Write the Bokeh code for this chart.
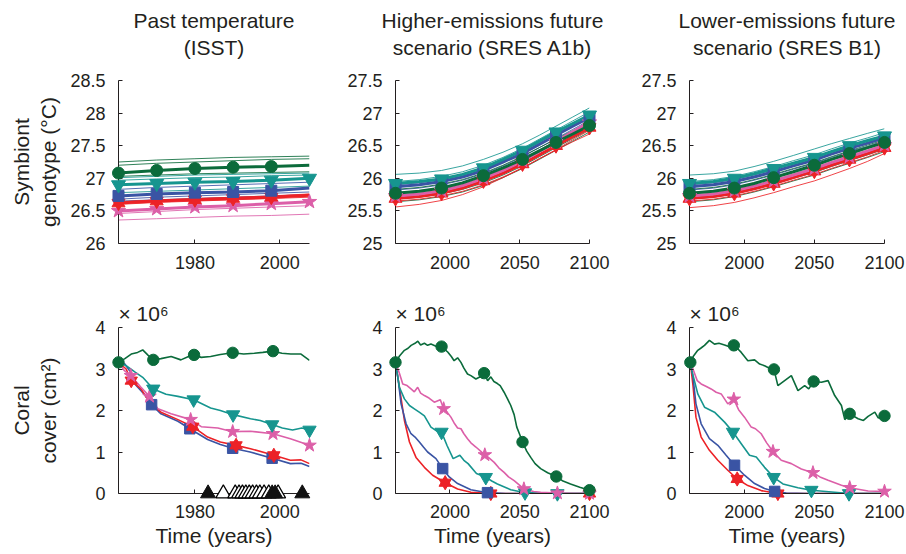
from bokeh.plotting import figure
from bokeh.layouts import column, row
from bokeh.models import Range1d, FixedTicker, NumeralTickFormatter, Title
from bokeh.core.properties import value
from bokeh.embed import file_html
from bokeh.resources import INLINE

# ---------------- data ----------------
# Top row: symbiont genotype (deg C)
isst_years = [1962, 1971, 1980, 1989, 1998, 2007]
isst_green = [27.08, 27.12, 27.15, 27.17, 27.18, 27.20]
isst_teal = [26.90, 26.92, 26.94, 26.95, 26.97, 27.00]
isst_blue = [26.73, 26.76, 26.78, 26.79, 26.81, 26.85]
isst_red = [26.62, 26.65, 26.67, 26.69, 26.71, 26.74]
isst_pink = [26.50, 26.53, 26.56, 26.58, 26.61, 26.64]
isst_thin = [
    ("green", [27.25, 27.28, 27.30, 27.32, 27.33, 27.34]),
    ("green", [27.20, 27.23, 27.25, 27.27, 27.29, 27.30]),
    ("green", [27.03, 27.05, 27.07, 27.08, 27.09, 27.10]),
    ("teal", [27.01, 27.03, 27.05, 27.06, 27.07, 27.08]),
    ("teal", [26.97, 26.99, 27.01, 27.02, 27.04, 27.05]),
    ("blue", [26.83, 26.86, 26.88, 26.90, 26.92, 26.94]),
    ("teal", [26.78, 26.80, 26.82, 26.84, 26.86, 26.88]),
    ("blue", [26.68, 26.71, 26.73, 26.75, 26.77, 26.79]),
    ("blue", [26.65, 26.67, 26.69, 26.71, 26.73, 26.75]),
    ("red", [26.60, 26.63, 26.65, 26.67, 26.69, 26.71]),
    ("red", [26.64, 26.67, 26.69, 26.71, 26.73, 26.76]),
    ("pink", [26.46, 26.49, 26.52, 26.54, 26.56, 26.58]),
    ("pink", [26.36, 26.38, 26.40, 26.42, 26.43, 26.45]),
]
isst_marks = {"green": [0, 1, 2, 3, 4], "teal": [0, 1, 2, 3, 4, 5], "blue": [0, 1, 2, 3, 4],
              "red": [0, 1, 2, 3, 4], "pink": [0, 1, 2, 3, 4, 5]}

a1b_years = [1961, 1978, 1994, 2009, 2024, 2038, 2052, 2064, 2076, 2088, 2100]
a1b_green = [25.77, 25.80, 25.85, 25.93, 26.04, 26.16, 26.29, 26.42, 26.55, 26.68, 26.81]
a1b_teal = [25.92, 25.95, 25.99, 26.06, 26.16, 26.29, 26.43, 26.57, 26.71, 26.84, 26.97]
a1b_blue = [25.87, 25.90, 25.95, 26.02, 26.12, 26.25, 26.38, 26.52, 26.66, 26.80, 26.93]
a1b_pink = [25.73, 25.76, 25.81, 25.89, 26.00, 26.12, 26.27, 26.41, 26.56, 26.71, 26.86]
a1b_red = [25.69, 25.72, 25.77, 25.85, 25.96, 26.08, 26.22, 26.36, 26.50, 26.64, 26.78]
a1b_thin = [
    ("teal", [26.06, 26.08, 26.12, 26.19, 26.29, 26.40, 26.53, 26.66, 26.80, 26.94, 27.08]),
    ("teal", [25.95, 25.98, 26.03, 26.10, 26.20, 26.32, 26.46, 26.60, 26.74, 26.88, 27.02]),
    ("blue", [25.90, 25.93, 25.98, 26.05, 26.15, 26.27, 26.41, 26.55, 26.69, 26.83, 26.97]),
    ("blue", [25.82, 25.85, 25.90, 25.97, 26.07, 26.19, 26.33, 26.47, 26.61, 26.75, 26.89]),
    ("green", [25.83, 25.86, 25.91, 25.98, 26.08, 26.20, 26.34, 26.47, 26.60, 26.73, 26.86]),
    ("pink", [25.78, 25.81, 25.86, 25.93, 26.03, 26.15, 26.29, 26.43, 26.58, 26.73, 26.88]),
    ("pink", [25.70, 25.73, 25.78, 25.85, 25.95, 26.07, 26.21, 26.35, 26.50, 26.65, 26.80]),
    ("green", [25.68, 25.71, 25.76, 25.83, 25.93, 26.05, 26.19, 26.33, 26.47, 26.61, 26.75]),
    ("green", [25.64, 25.67, 25.72, 25.79, 25.89, 26.01, 26.15, 26.29, 26.43, 26.57, 26.71]),
    ("red", [25.65, 25.68, 25.73, 25.80, 25.90, 26.02, 26.16, 26.30, 26.44, 26.59, 26.74]),
    ("red", [25.56, 25.60, 25.66, 25.75, 25.87, 26.01, 26.16, 26.30, 26.43, 26.56, 26.68]),
]

b1_years = [1961, 1978, 1993, 2007, 2021, 2035, 2050, 2062, 2075, 2088, 2100]
b1_green = [25.77, 25.80, 25.85, 25.92, 26.01, 26.10, 26.20, 26.29, 26.38, 26.47, 26.55]
b1_teal = [25.92, 25.95, 26.00, 26.07, 26.15, 26.23, 26.32, 26.41, 26.50, 26.58, 26.65]
b1_blue = [25.87, 25.90, 25.95, 26.02, 26.10, 26.19, 26.28, 26.37, 26.46, 26.54, 26.62]
b1_pink = [25.73, 25.76, 25.81, 25.88, 25.96, 26.05, 26.15, 26.24, 26.33, 26.42, 26.51]
b1_red = [25.69, 25.72, 25.77, 25.84, 25.92, 26.01, 26.11, 26.20, 26.29, 26.38, 26.47]
b1_thin = [
    ("teal", [26.05, 26.07, 26.11, 26.18, 26.26, 26.35, 26.45, 26.53, 26.61, 26.69, 26.76]),
    ("teal", [25.95, 25.98, 26.03, 26.10, 26.18, 26.27, 26.36, 26.45, 26.54, 26.62, 26.70]),
    ("blue", [25.90, 25.93, 25.98, 26.05, 26.13, 26.22, 26.31, 26.40, 26.49, 26.58, 26.66]),
    ("blue", [25.82, 25.85, 25.90, 25.97, 26.05, 26.14, 26.23, 26.32, 26.41, 26.49, 26.58]),
    ("green", [25.83, 25.86, 25.91, 25.98, 26.06, 26.15, 26.24, 26.33, 26.42, 26.51, 26.59]),
    ("pink", [25.78, 25.81, 25.86, 25.93, 26.01, 26.10, 26.19, 26.28, 26.37, 26.46, 26.55]),
    ("pink", [25.70, 25.73, 25.78, 25.85, 25.93, 26.02, 26.11, 26.20, 26.29, 26.38, 26.47]),
    ("green", [25.68, 25.71, 25.76, 25.83, 25.91, 26.00, 26.09, 26.18, 26.27, 26.36, 26.45]),
    ("green", [25.64, 25.67, 25.72, 25.79, 25.87, 25.96, 26.05, 26.14, 26.23, 26.32, 26.41]),
    ("red", [25.65, 25.68, 25.73, 25.80, 25.88, 25.97, 26.06, 26.15, 26.24, 26.33, 26.43]),
    ("red", [25.55, 25.58, 25.63, 25.70, 25.78, 25.87, 25.96, 26.05, 26.15, 26.26, 26.38]),
]
future_marks = [0, 2, 4, 6, 8, 10]

# Bottom row: coral cover (x 10^6 cm^2)
cov1_green_x = [1962, 1963.5, 1965, 1966.5, 1967.7, 1969, 1970.2, 1972, 1974.4, 1976.7, 1978.5, 1979.8, 1981.5,
                1983.7, 1986, 1988.9, 1991.5, 1994, 1996, 1998.4, 2000.5, 2002.6, 2005, 2007]
cov1_green_y = [3.16, 3.25, 3.36, 3.40, 3.46, 3.33, 3.22, 3.25, 3.30, 3.22, 3.30, 3.34, 3.28,
                3.30, 3.35, 3.39, 3.36, 3.38, 3.40, 3.43, 3.38, 3.36, 3.36, 3.21]
cov1_green_m = [0, 6, 11, 15, 19]
cov1_teal_x = [1962, 1963.8, 1966, 1967.7, 1970.2, 1973.2, 1976, 1979.7, 1983.7, 1986, 1989, 1993.1, 1995.4,
               1998.2, 2000.6, 2003, 2005.2, 2007]
cov1_teal_y = [3.16, 3.08, 2.92, 2.80, 2.52, 2.39, 2.34, 2.26, 2.06, 2.00, 1.90, 1.80, 1.76,
               1.66, 1.58, 1.53, 1.58, 1.53]
cov1_teal_m = [4, 7, 10, 13, 17]
cov1_pink_x = [1962, 1963.4, 1964.9, 1967.3, 1969.3, 1971.3, 1974.4, 1979, 1981.5, 1985.4, 1988.9, 1993.1,
               1998.4, 2002.5, 2007]
cov1_pink_y = [3.16, 2.96, 2.84, 2.56, 2.34, 2.04, 1.92, 1.78, 1.61, 1.58, 1.49, 1.50, 1.44, 1.32, 1.16]
cov1_pink_m = [2, 4, 7, 10, 12, 14]
cov1_red_x = [1962, 1963.8, 1965, 1967.3, 1969.3, 1972, 1976, 1979.5, 1983, 1986, 1989.7, 1993.1, 1998.6,
              2002.5, 2005, 2007]
cov1_red_y = [3.16, 3.00, 2.72, 2.52, 2.20, 1.96, 1.78, 1.61, 1.36, 1.24, 1.16, 1.08, 0.92, 0.80, 0.81, 0.72]
cov1_red_m = [2, 7, 10, 12]
cov1_blue_x = [1962, 1963.5, 1965, 1966, 1968, 1969.8, 1972, 1976, 1978.8, 1983, 1986, 1988.9, 1993, 1998.2,
               2002.5, 2005, 2007]
cov1_blue_y = [3.16, 3.12, 2.90, 2.62, 2.40, 2.14, 1.92, 1.74, 1.56, 1.30, 1.18, 1.09, 1.00, 0.85, 0.72, 0.73, 0.65]
cov1_blue_m = [5, 8, 11, 13]
events_filled = [1983.1, 1998.2, 1998.9, 2005.3]
events_open = [1986.7, 1989.5, 1990.4, 1991.2, 1992.0, 1992.8, 1993.6, 1994.5, 1995.3, 1996.3, 1997.4, 1999.6]

cov2_green_x = [1961, 1964, 1967.4, 1970, 1972.2, 1975, 1977, 1979, 1981.7, 1984, 1986.4, 1990, 1994, 1996,
                1998.4, 2001, 2003, 2005.5, 2007.9, 2010, 2012.6, 2015, 2018.6, 2021, 2024.5, 2027, 2029.3,
                2031.5, 2034, 2036, 2038.8, 2041, 2043.6, 2046, 2047.9, 2050, 2052, 2055, 2057.9, 2061,
                2065, 2070, 2076.2, 2081, 2086.4, 2093, 2100]
cov2_green_y = [3.16, 3.32, 3.45, 3.50, 3.57, 3.62, 3.67, 3.58, 3.62, 3.57, 3.60, 3.55, 3.54, 3.48,
                3.41, 3.30, 3.20, 3.27, 3.16, 3.02, 2.88, 2.84, 2.76, 2.80, 2.90, 2.72, 2.81,
                2.70, 2.65, 2.60, 2.44, 2.30, 2.12, 1.90, 1.60, 1.42, 1.24, 1.02, 0.87, 0.72,
                0.60, 0.50, 0.41, 0.30, 0.23, 0.15, 0.08]
cov2_green_m = [0, 12, 24, 36, 42, 46]
cov2_pink_x = [1961, 1963.8, 1966.2, 1969.3, 1972.1, 1974.5, 1976.9, 1979, 1981.7, 1985, 1988.8, 1993.1, 1995.5,
               1998, 2000.7, 2003, 2005.5, 2007.9, 2010, 2012.6, 2015, 2018.6, 2025, 2028, 2031.7, 2035,
               2038.8, 2042, 2046, 2053, 2060, 2065, 2077, 2088, 2100]
cov2_pink_y = [3.16, 2.90, 2.64, 2.60, 2.52, 2.45, 2.56, 2.42, 2.36, 2.30, 2.20, 2.26, 2.04,
               1.96, 1.84, 1.70, 1.58, 1.56, 1.44, 1.32, 1.22, 1.12, 0.93, 0.86, 0.75, 0.62,
               0.51, 0.40, 0.31, 0.11, 0.05, 0.03, 0.01, 0.0, 0.0]
cov2_pink_m = [12, 22, 29, 32, 34]
cov2_teal_x = [1961, 1963.8, 1967.4, 1971, 1974.5, 1978, 1981.7, 1986.4, 1991.2, 1994, 1998, 2002.3, 2007.1,
               2010, 2013, 2019, 2025.7, 2030, 2034, 2043.6, 2053.8, 2065, 2077, 2088, 2100]
cov2_teal_y = [3.16, 2.56, 2.28, 2.12, 2.04, 1.96, 1.87, 1.60, 1.49, 1.48, 1.15, 0.84, 0.92,
               0.80, 0.72, 0.48, 0.39, 0.30, 0.23, 0.09, 0.02, 0.01, 0.0, 0.0, 0.0]
cov2_teal_m = [9, 16, 20, 22]
cov2_blue_x = [1961, 1963, 1965, 1968.6, 1972.1, 1975, 1978.1, 1981, 1984, 1990, 1994.8, 1999.5, 2005.5,
               2015, 2026.9, 2040, 2055, 2077, 2100]
cov2_blue_y = [3.16, 2.72, 2.16, 1.68, 1.44, 1.36, 1.24, 1.12, 1.00, 0.84, 0.60, 0.40, 0.24,
               0.09, 0.02, 0.0, 0.0, 0.0, 0.0]
cov2_blue_m = [10, 14]
cov2_red_x = [1961, 1963.8, 1967.4, 1971, 1975.7, 1981.7, 1987.6, 1996.6, 2005.5, 2015, 2029.3, 2045,
              2055, 2077, 2100]
cov2_red_y = [3.16, 2.56, 1.76, 1.24, 0.87, 0.63, 0.44, 0.26, 0.11, 0.03, 0.0, 0.0, 0.0, 0.0, 0.0]
cov2_red_m = [7, 10, 14]

cov3_green_x = [1961.6, 1964, 1966.9, 1969, 1971.7, 1975.2, 1978.8, 1982, 1986, 1989, 1992.6, 1995,
                1997.9, 2002.6, 2007.4, 2011, 2014.5, 2018, 2021.2, 2024, 2028.8, 2033.6, 2038.3,
                2043.1, 2046, 2049.5, 2055, 2059.8, 2064.5, 2069.3, 2071.7, 2075.2, 2081.2, 2085,
                2088.3, 2093.1, 2095.5, 2100]
cov3_green_y = [3.16, 3.32, 3.45, 3.50, 3.57, 3.69, 3.60, 3.62, 3.58, 3.54, 3.57, 3.50,
                3.40, 3.20, 3.22, 3.12, 3.08, 3.02, 2.99, 2.60, 2.72, 2.84, 2.48,
                2.60, 2.52, 2.70, 2.68, 2.72, 2.36, 2.12, 1.78, 1.92, 1.80, 1.76,
                1.86, 1.96, 1.82, 1.87]
cov3_green_m = [0, 10, 18, 25, 31, 37]
cov3_pink_x = [1961.6, 1964, 1966.5, 1969.3, 1973, 1976.4, 1980, 1983.6, 1988.3, 1992.6, 1996, 2000.2, 2005,
               2008, 2012.1, 2016, 2020.5, 2026.4, 2033.6, 2040.7, 2049, 2054, 2059.8, 2069.3, 2075.2,
               2088.3, 2100]
cov3_pink_y = [3.16, 2.95, 2.72, 2.64, 2.58, 2.52, 2.44, 2.40, 2.16, 2.27, 2.02, 1.84, 1.60,
               1.56, 1.44, 1.22, 1.01, 0.80, 0.72, 0.59, 0.50, 0.40, 0.32, 0.20, 0.14,
               0.06, 0.05]
cov3_pink_m = [9, 16, 20, 24, 26]
cov3_teal_x = [1961.6, 1963.5, 1966.9, 1971.7, 1978.8, 1986, 1992, 1997.9, 2003.8, 2008.6, 2014.5, 2021,
               2027.6, 2038.3, 2047.9, 2064.5, 2074.7, 2088, 2100]
cov3_teal_y = [3.16, 2.85, 2.40, 2.08, 1.96, 1.72, 1.48, 1.20, 0.92, 0.88, 0.63, 0.39,
               0.23, 0.14, 0.08, 0.03, 0.0, 0.0, 0.0]
cov3_teal_m = [6, 11, 14, 16]
cov3_blue_x = [1961.6, 1963.5, 1965.6, 1969.3, 1975.2, 1981.2, 1987.1, 1993.1, 2000.2, 2007.4, 2014.5,
               2021.7, 2030, 2045, 2075, 2100]
cov3_blue_y = [3.16, 2.80, 2.16, 1.68, 1.32, 1.16, 0.92, 0.68, 0.44, 0.24, 0.12, 0.05, 0.01, 0.0, 0.0, 0.0]
cov3_blue_m = [7, 11]
cov3_red_x = [1961.6, 1963.5, 1965.6, 1969.3, 1975.2, 1981.2, 1988.3, 1995, 2002.6, 2012.1, 2024, 2045,
              2075, 2100]
cov3_red_y = [3.16, 2.60, 1.84, 1.36, 1.04, 0.80, 0.56, 0.35, 0.19, 0.07, 0.0, 0.0, 0.0, 0.0]
cov3_red_m = [7, 10]

title_lines = [("Past temperature", "(ISST)"),
               ("Higher-emissions future", "scenario (SRES A1b)"),
               ("Lower-emissions future", "scenario (SRES B1)")]
genotype_ticks = {0: [26, 26.5, 27, 27.5, 28, 28.5], 1: [25, 25.5, 26, 26.5, 27, 27.5],
                  2: [25, 25.5, 26, 26.5, 27, 27.5]}
cover_ticks = [0, 1, 2, 3, 4]
past_year_ticks = [1980, 2000]
future_year_ticks = [2000, 2050, 2100]

# ---------------- style ----------------
FONT = "Liberation Sans"
INK = "#231f20"
COL = {"green": "#0b6b3b", "teal": "#16958f", "blue": "#3a54a4", "red": "#ec2227", "pink": "#dc5fa8"}
MARK = {"green": ("circle", 12), "teal": ("inverted_triangle", 14), "blue": ("square", 11),
        "red": ("hexagram", 13), "pink": ("star", 15)}

# column geometry: width, left border, right border
COLS = [(340, 118, 31), (292, 55, 43), (274, 57, 22)]
HEADER_H = 70


def header_fig(ci):
    w, left, right = COLS[ci]
    frame_w = w - left - right
    p = figure(width=w, height=HEADER_H, x_range=Range1d(0, w), y_range=Range1d(0, HEADER_H),
               output_backend="svg", toolbar_location=None, title=None,
               min_border_left=0, min_border_right=0, min_border_top=0, min_border_bottom=0)
    p.axis.visible = False
    p.grid.visible = False
    p.outline_line_color = None
    p.border_fill_color = "white"
    xc = left + frame_w / 2
    first, second = title_lines[ci]
    p.text(x=[xc, xc], y=[HEADER_H - 20, HEADER_H - 47], text=[first, second],
           text_align="center", text_baseline="middle", text_font=value(FONT),
           text_font_size="21px", text_color=INK)
    return p


def make_fig(ci, top_row, xr, xticks, yr, yticks):
    w, left, right = COLS[ci]
    if top_row:
        h, top, bottom = 285 - HEADER_H, 80 - HEADER_H, 42
    else:
        h, top, bottom = 269, 42, 61
    p = figure(width=w, height=h, x_range=Range1d(*xr), y_range=Range1d(*yr),
               output_backend="svg", toolbar_location=None, title=None,
               min_border_left=left, min_border_right=right,
               min_border_top=top, min_border_bottom=bottom)
    p.grid.visible = False
    p.outline_line_color = None
    p.background_fill_color = "white"
    p.border_fill_color = "white"
    p.xaxis.ticker = FixedTicker(ticks=xticks)
    p.yaxis.ticker = FixedTicker(ticks=yticks)
    for ax in (p.xaxis[0], p.yaxis[0]):
        ax.formatter = NumeralTickFormatter(format="0.[0]")
        ax.major_tick_in = 4
        ax.major_tick_out = 0
        ax.minor_tick_line_color = None
        ax.axis_line_color = INK
        ax.axis_line_width = 1
        ax.major_tick_line_color = INK
        ax.major_label_text_font = FONT
        ax.major_label_text_font_size = "18px"
        ax.major_label_text_color = INK
        ax.axis_label_text_font = FONT
        ax.axis_label_text_font_size = "21px"
        ax.axis_label_text_font_style = "normal"
        ax.axis_label_text_color = INK
    p.yaxis.major_label_standoff = 13
    p.xaxis.major_label_standoff = 12 if top_row else 11
    if not top_row:
        p.add_layout(Title(text="\u00d7 10\u2076", align="left", standoff=6, text_font=FONT,
                           text_font_size="21px", text_font_style="normal", text_color=INK), "above")
        p.xaxis.axis_label = "Time (years)"
        p.xaxis.axis_label_standoff = 3
    return p


def markers(p, xs, ys, key, scale=1.0):
    kind, size = MARK[key]
    size = size * scale
    c = COL[key]
    if kind == "hexagram":
        p.scatter(xs, ys, marker="triangle", size=size, color=c, level="overlay")
        p.scatter(xs, ys, marker="inverted_triangle", size=size, color=c, level="overlay")
    else:
        p.scatter(xs, ys, marker=kind, size=size, color=c, level="overlay")


def genotype_panel(ci, xr, xticks, years, thin, thick, marks):
    p = make_fig(ci, True, xr, xticks, (genotype_ticks[ci][0], genotype_ticks[ci][-1]), genotype_ticks[ci])
    for key, vals in thin:
        p.line(years, vals, line_color=COL[key], line_width=1, line_alpha=0.85)
    for key, vals in thick:
        p.line(years, vals, line_color=COL[key], line_width=3)
    for key, vals in thick:
        idx = marks[key] if isinstance(marks, dict) else marks
        markers(p, [years[i] for i in idx], [vals[i] for i in idx], key)
    return p


def cover_panel(ci, xr, xticks, series):
    p = make_fig(ci, False, xr, xticks, (0, 4), cover_ticks)
    for key, xs, ys, idx in series:
        p.line(xs, ys, line_color=COL[key], line_width=1.6)
    for key, xs, ys, idx in series:
        markers(p, [xs[i] for i in idx], [ys[i] for i in idx], key, 0.95)
    return p


h1, h2, h3 = header_fig(0), header_fig(1), header_fig(2)

p1 = genotype_panel(0, (1962, 2007), past_year_ticks, isst_years, isst_thin,
                    [("pink", isst_pink), ("red", isst_red), ("blue", isst_blue), ("teal", isst_teal),
                     ("green", isst_green)], isst_marks)
p1.yaxis.axis_label = "Symbiont\ngenotype (\u00b0C)"
p1.yaxis.axis_label_standoff = 7

p2 = genotype_panel(1, (1961, 2100), future_year_ticks, a1b_years, a1b_thin,
                    [("red", a1b_red), ("pink", a1b_pink), ("blue", a1b_blue), ("teal", a1b_teal),
                     ("green", a1b_green)], future_marks)
p3 = genotype_panel(2, (1961, 2100), future_year_ticks, b1_years, b1_thin,
                    [("red", b1_red), ("pink", b1_pink), ("blue", b1_blue), ("teal", b1_teal),
                     ("green", b1_green)], future_marks)

p4 = cover_panel(0, (1962, 2007), past_year_ticks, [
    ("blue", cov1_blue_x, cov1_blue_y, cov1_blue_m),
    ("red", cov1_red_x, cov1_red_y, cov1_red_m),
    ("pink", cov1_pink_x, cov1_pink_y, cov1_pink_m),
    ("teal", cov1_teal_x, cov1_teal_y, cov1_teal_m),
    ("green", cov1_green_x, cov1_green_y, cov1_green_m)])
p4.yaxis.axis_label = "Coral\ncover (cm\u00b2)"
p4.yaxis.axis_label_standoff = 32
p4.scatter(events_open, [0] * len(events_open), marker="triangle", size=15, fill_color="white",
           line_color="black", line_width=1.2, level="overlay")
p4.scatter(events_filled, [0] * len(events_filled), marker="triangle", size=15, fill_color="#111111",
           line_color="#111111", level="overlay")

p5 = cover_panel(1, (1961, 2100), future_year_ticks, [
    ("red", cov2_red_x, cov2_red_y, cov2_red_m),
    ("blue", cov2_blue_x, cov2_blue_y, cov2_blue_m),
    ("teal", cov2_teal_x, cov2_teal_y, cov2_teal_m),
    ("pink", cov2_pink_x, cov2_pink_y, cov2_pink_m),
    ("green", cov2_green_x, cov2_green_y, cov2_green_m)])
p6 = cover_panel(2, (1961, 2100), future_year_ticks, [
    ("red", cov3_red_x, cov3_red_y, cov3_red_m),
    ("blue", cov3_blue_x, cov3_blue_y, cov3_blue_m),
    ("teal", cov3_teal_x, cov3_teal_y, cov3_teal_m),
    ("pink", cov3_pink_x, cov3_pink_y, cov3_pink_m),
    ("green", cov3_green_x, cov3_green_y, cov3_green_m)])

layout = column(row(h1, h2, h3), row(p1, p2, p3), row(p4, p5, p6))
open("out.html", "w").write(file_html(layout, INLINE))
